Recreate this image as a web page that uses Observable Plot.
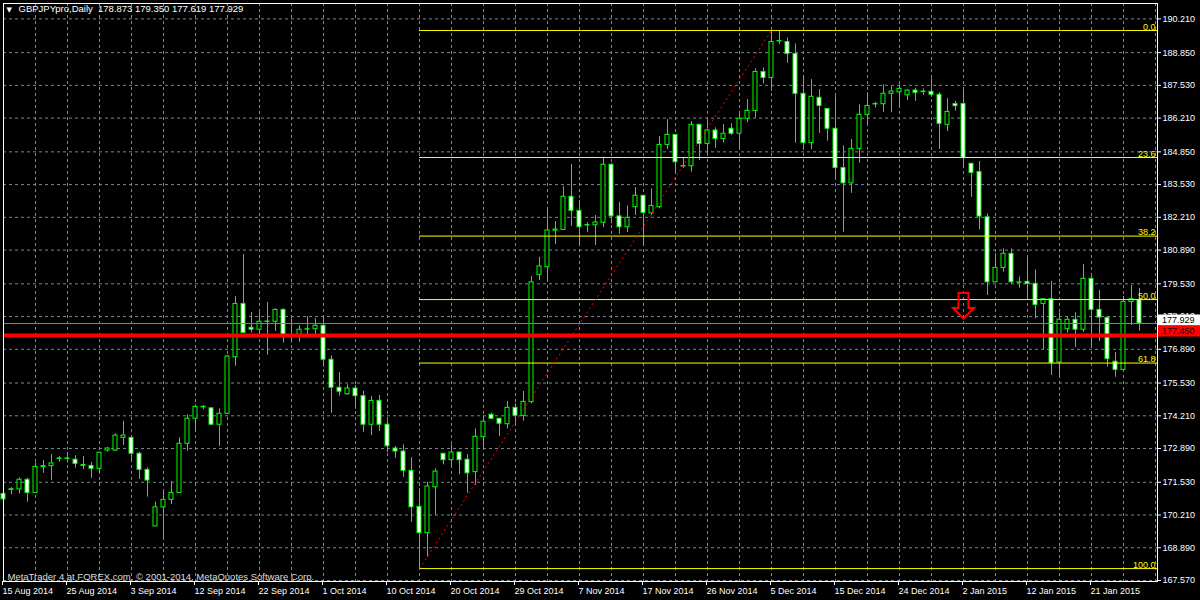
<!DOCTYPE html>
<html><head><meta charset="utf-8">
<script src="https://cdn.jsdelivr.net/npm/d3@7"></script>
<script src="https://cdn.jsdelivr.net/npm/@observablehq/plot@0.6"></script>
<style>
html,body{margin:0;padding:0;background:#000;}
#chart{width:1200px;height:600px;overflow:hidden;background:#000;}
</style></head><body><div id="chart"></div>
<script>
const openP = [
171.06,171.22,171.24,171.63,171.10,172.14,172.18,172.47,172.49,172.44,
172.22,172.19,172.07,172.81,172.81,173.32,173.32,172.68,172.03,169.75,
170.52,170.82,171.10,173.08,174.09,174.55,174.51,173.85,174.29,176.57,
178.72,177.76,177.68,177.99,178.00,178.48,177.40,177.47,177.68,177.70,
177.84,176.47,175.34,175.08,175.31,175.00,173.85,174.81,173.85,172.89,
172.77,171.99,170.54,169.48,171.33,172.68,172.42,172.73,172.44,171.94,
173.35,174.25,174.09,173.87,174.53,174.21,174.76,179.89,180.20,181.67,
181.70,183.04,182.47,181.88,181.89,181.99,184.33,182.25,181.81,182.62,
183.08,182.37,182.62,185.13,185.53,184.26,184.27,185.94,185.17,185.71,
185.37,185.78,185.58,186.18,186.50,188.07,187.83,189.30,189.28,188.80,
187.19,185.20,187.03,186.58,185.78,184.20,183.58,184.97,186.34,186.76,
186.77,187.19,187.25,187.13,187.32,187.26,187.27,187.15,185.94,186.78,
186.78,184.37,184.03,182.21,179.59,180.17,180.74,179.57,179.61,179.53,
178.72,178.91,176.36,177.70,178.08,177.68,179.73,178.48,178.16,176.39,
176.06,178.80,178.873];
const highP = [
171.47,171.31,171.71,171.69,172.31,172.41,172.65,172.56,172.73,172.60,
172.57,172.33,172.74,172.94,173.48,173.99,173.35,172.74,172.11,170.73,
171.13,171.56,173.32,174.25,174.65,174.62,174.52,174.49,176.64,179.02,
180.71,178.37,178.37,178.78,178.52,178.52,178.12,177.84,178.21,178.12,
178.18,176.63,175.95,175.46,175.44,175.20,174.99,175.03,174.01,172.97,
173.04,172.52,171.27,171.53,172.07,172.69,173.04,172.74,172.65,173.68,
174.18,174.31,174.10,174.79,174.69,175.19,179.82,180.60,182.59,182.04,
183.45,184.34,182.89,181.99,182.28,184.63,184.37,182.81,182.67,183.40,
183.09,183.36,185.47,186.15,185.54,184.63,186.07,185.95,186.11,185.82,
185.95,185.98,186.35,186.96,188.20,188.24,189.74,189.70,189.44,189.20,
187.93,187.76,187.36,186.59,187.07,185.09,185.35,186.74,187.23,186.85,
187.55,187.48,187.55,187.36,187.41,187.39,187.79,187.23,186.99,186.88,
187.32,184.38,184.46,182.35,180.74,180.94,180.94,179.80,180.54,180.09,
178.92,179.63,178.36,178.18,178.36,180.31,179.82,179.26,178.17,176.76,
179.02,179.46,179.350];
const lowP = [
170.46,171.02,171.06,170.73,171.08,171.89,171.60,172.34,172.30,172.10,
172.04,171.69,171.91,172.74,172.78,173.01,172.37,171.64,170.93,169.74,
169.25,170.63,171.08,172.78,173.59,174.45,173.82,172.98,174.28,176.21,
177.54,177.55,177.51,176.65,177.61,177.14,177.14,177.18,177.38,177.38,
176.17,174.31,175.00,175.04,174.47,173.54,173.41,173.58,172.73,172.49,
171.73,169.92,168.05,168.51,170.19,172.23,172.13,171.83,171.09,171.40,
172.94,174.05,173.37,173.68,173.89,173.99,174.69,179.66,179.63,181.11,
181.68,181.84,181.10,181.60,181.07,181.79,181.95,181.52,181.60,182.28,
181.07,182.28,182.55,184.94,183.96,184.19,184.03,184.50,184.77,184.99,
185.21,185.51,184.97,186.02,186.22,187.59,187.29,189.17,188.42,185.20,
184.94,184.94,185.60,185.28,183.76,181.61,183.18,184.39,185.98,186.62,
186.45,186.43,186.61,186.92,186.89,187.13,187.05,184.95,185.67,186.49,
184.23,183.02,181.71,179.06,179.58,180.00,179.50,179.35,178.92,178.12,
176.87,175.83,175.76,177.54,176.97,177.57,177.00,177.20,176.17,175.76,
176.03,177.85,177.619];
const closeP = [
170.84,171.25,171.63,171.10,172.15,172.18,172.29,172.49,172.47,172.27,
172.19,172.07,172.72,172.89,173.41,173.41,172.68,172.03,171.60,170.52,
170.82,171.10,173.08,174.09,174.57,174.57,173.85,174.29,176.60,178.72,
177.55,177.68,178.00,178.01,178.48,177.39,177.38,177.68,177.70,177.84,
176.47,175.34,175.18,175.31,175.00,173.85,174.81,173.85,172.98,172.77,
171.99,170.52,169.48,171.36,171.96,172.42,172.73,172.42,171.89,173.36,
173.97,174.09,173.89,174.53,174.21,174.77,179.59,180.23,181.68,181.72,
183.04,182.47,181.81,181.90,182.00,184.33,182.25,181.81,182.19,183.08,
182.39,182.67,185.13,185.53,184.43,184.28,185.94,185.17,185.71,185.37,
185.58,185.58,186.18,186.50,188.07,187.83,189.28,189.32,188.80,187.19,
185.20,187.07,186.70,185.78,184.20,183.58,184.97,186.34,186.70,186.78,
187.19,187.28,187.39,187.32,187.23,187.28,187.15,185.98,186.46,186.69,
184.61,184.00,182.24,179.59,180.17,180.74,179.59,179.59,179.53,178.68,
178.91,176.33,178.08,178.08,177.68,179.73,178.48,178.17,176.49,176.06,
178.80,178.91,177.929];

const dateLabels = ["15 Aug 2014","25 Aug 2014","3 Sep 2014","12 Sep 2014","22 Sep 2014",
  "1 Oct 2014","10 Oct 2014","20 Oct 2014","29 Oct 2014","7 Nov 2014","17 Nov 2014",
  "26 Nov 2014","5 Dec 2014","15 Dec 2014","24 Dec 2014","2 Jan 2015","12 Jan 2015","21 Jan 2015"];
const barsPerLabel = 8;
const barsPerGrid = 4;
const priceTicks = [190.21,188.85,187.53,186.21,184.85,183.53,182.21,180.89,179.53,
  178.21,176.89,175.53,174.21,172.89,171.53,170.21,168.89,167.57];

const fibLevels = [0, 23.6, 38.2, 50, 61.8, 100];
const fibLabels = ["0.0","23.6","38.2","50.0","61.8","100.0"];
const swingLowBar = 52, swingHighBar = 96;
const swingLow = 168.05, swingHigh = 189.74;
const bidPrice = 177.929;
const alertPrice = 177.450;
const arrowBar = 120, arrowTopPrice = 179.14;
const titleText = "GBPJPYpro,Daily  178.873 179.350 177.619 177.929";
const copyrightText = "MetaTrader 4 at FOREX.com, \u00a9 2001-2014, MetaQuotes Software Corp.";

const FONT = "'Liberation Sans', Arial, sans-serif";
const GREEN = "#00ff00";
const GRID = "#778899";

const bars = openP.map((o, i) => ({i, o, h: highP[i], l: lowP[i], c: closeP[i]}));
const bull = bars.filter(d => d.c > d.o);
const bear = bars.filter(d => d.c <= d.o);
const xMax = 144.25;
const fibRows = fibLevels.map((lv, k) => ({label: fibLabels[k], price: swingHigh - (swingHigh - swingLow) * lv / 100}));
const labelTicks = dateLabels.map((d, k) => k * barsPerLabel);
const gridTicks = d3.range(0, xMax, barsPerGrid);

// price tag box in the right margin, placed from the y scale
function priceTag(value, bg, fg, shift) {
  return (index, scales, values, dims) => {
    const y = Math.round(scales.y(value)) + shift;
    const x0 = dims.width - dims.marginRight + 1;
    const g = d3.create("svg:g");
    g.append("rect").attr("x", x0).attr("y", y - 5.5).attr("width", dims.marginRight - 1).attr("height", 11).attr("fill", bg);
    g.append("text").attr("x", x0 + 4).attr("y", y).attr("dy", "0.35em").attr("text-anchor", "start")
      .attr("fill", fg).attr("font-size", 9).attr("font-family", FONT).text(value.toFixed(3));
    return g.node();
  };
}

// hollow down arrow anchored at a bar / price through the scales
function downArrow(bar, price) {
  return (index, scales) => {
    const cx = scales.x(bar) + 0.5, top = scales.y(price);
    const s = 5, hw = 10.5, h1 = 15, h2 = 25.5;
    const p = `M${cx - s},${top} L${cx + s},${top} L${cx + s},${top + h1} L${cx + hw},${top + h1} L${cx},${top + h2} L${cx - hw},${top + h1} L${cx - s},${top + h1} Z`;
    return d3.create("svg:path").attr("d", p).attr("fill", "none").attr("stroke", "red").attr("stroke-width", 2).node();
  };
}

const chart = Plot.plot({
  width: 1200, height: 600,
  marginLeft: 3, marginRight: 43, marginTop: 3, marginBottom: 19,
  style: {background: "#000", color: "white", fontFamily: FONT, fontSize: "9px"},
  x: {type: "linear", domain: [0, xMax], axis: null},
  y: {domain: [167.53, 190.83], axis: null},
  marks: [
    Plot.gridY(priceTicks, {stroke: GRID, strokeOpacity: 1, strokeDasharray: "3,3"}),
    Plot.gridX(gridTicks, {stroke: GRID, strokeOpacity: 1, strokeDasharray: "3,3"}),
    Plot.ruleX(bars, {x: "i", y1: "l", y2: "h", stroke: GREEN}),
    Plot.rect(bull, {x1: d => d.i - 0.25, x2: d => d.i + 0.25, y1: "o", y2: "c", fill: "black", stroke: GREEN}),
    Plot.rect(bear, {x1: d => d.i - 0.25, x2: d => d.i + 0.25, y1: "o", y2: "c", fill: "white", stroke: GREEN}),
    Plot.ruleY(fibRows, {y: "price", x1: swingLowBar, x2: xMax, stroke: "#ffff00"}),
    Plot.text(fibRows, {y: "price", text: "label", frameAnchor: "right", textAnchor: "end", lineAnchor: "bottom", dx: -2, dy: -1, fill: "#ffff00", fontSize: 9}),
    Plot.link([{x1: swingLowBar, y1: swingLow, x2: swingHighBar, y2: swingHigh}], {x1: "x1", y1: "y1", x2: "x2", y2: "y2", stroke: "red", strokeDasharray: "2,3"}),
    Plot.ruleY([bidPrice], {stroke: GRID}),
    Plot.ruleY([alertPrice], {stroke: "red", strokeWidth: 4}),
    downArrow(arrowBar, arrowTopPrice),
    Plot.text(["\u25bc"], {frameAnchor: "top-left", dx: 3, dy: 4, lineAnchor: "top", fill: "white", fontSize: 7, fontFamily: "DejaVu Sans"}),
    Plot.text([titleText], {frameAnchor: "top-left", dx: 15, dy: 2, lineAnchor: "top", textAnchor: "start", fill: "white", fontSize: 9.5}),
    Plot.text([copyrightText], {frameAnchor: "bottom-left", dx: 4, dy: -2, lineAnchor: "bottom", textAnchor: "start", fill: "#dddddd", fontSize: 9.5}),
    Plot.frame({stroke: "white"}),
    Plot.axisY(priceTicks, {anchor: "right", tickSize: 3, tickPadding: 2, tickFormat: d => d.toFixed(3), color: "white", fontSize: 9}),
    Plot.axisX(labelTicks, {anchor: "bottom", tickSize: 4, tickPadding: 2, tickFormat: d => dateLabels[d / barsPerLabel], textAnchor: "start", dx: -1, color: "white", fontSize: 9}),
    priceTag(bidPrice, "white", "black", -3),
    priceTag(alertPrice, "red", "#200000", -4)
  ]
});
document.getElementById("chart").appendChild(chart);
</script></body></html>
